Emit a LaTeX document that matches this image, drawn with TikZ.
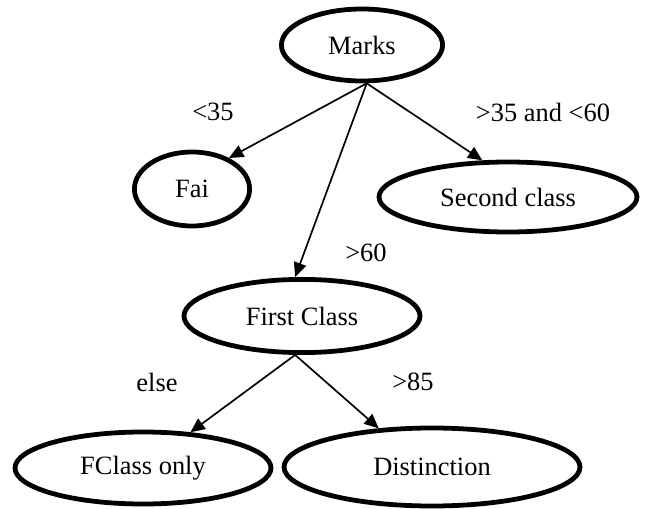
\documentclass[tikz,border=0pt]{standalone}
\usepackage{fontspec}
\setmainfont{Liberation Serif}
\usetikzlibrary{shapes,arrows.meta}

\begin{document}
\begin{tikzpicture}[
  every node/.style={font=\fontsize{18.8}{22}\selectfont},
  box/.style={draw, ellipse, line width=3.4pt, inner sep=0pt},
  link/.style={-{Triangle[length=3.6mm, width=3.2mm]}, line width=1.2pt}]
 \useasboundingbox (0,0) rectangle (16.2,12.7);

 \node (marks) [box, minimum width=4.03cm, minimum height=1.8cm] at (9.05,11.575) {Marks};
 \node (fai) [box, minimum width=2.88cm, minimum height=1.85cm] at (4.8,7.975) {Fai};
 \node (second) [box, minimum width=6.45cm, minimum height=1.75cm] at (12.7,7.775) {Second class};
 \node (first) [box, minimum width=5.9cm, minimum height=1.83cm] at (7.55,4.8) {First Class};
 \node (fonly) [box, minimum width=6.4cm, minimum height=1.8cm] at (3.575,1.0) {FClass only};
 \node (dist) [box, minimum width=7.4cm, minimum height=1.95cm] at (10.8,1.025) {Distinction};

 \node (lt35) at (5.325,9.9) {<35};
 \node (mid) at (13.575,9.9) {>35 and <60};
 \node (gt60) at (9.15,6.375) {>60};
 \node (other) at (3.925,3.15) {else};
 \node (gt85) at (10.325,3.15) {>85};

 \draw[link] (marks.-83) to (fai.40);
 \draw[link] (marks.-83) to (second.125);
 \draw[link] (marks.-83) to (first.100);
 \draw[link] (first.-100) to (fonly.37);
 \draw[link] (first.-100) to (dist.144);
\end{tikzpicture}
\end{document}
